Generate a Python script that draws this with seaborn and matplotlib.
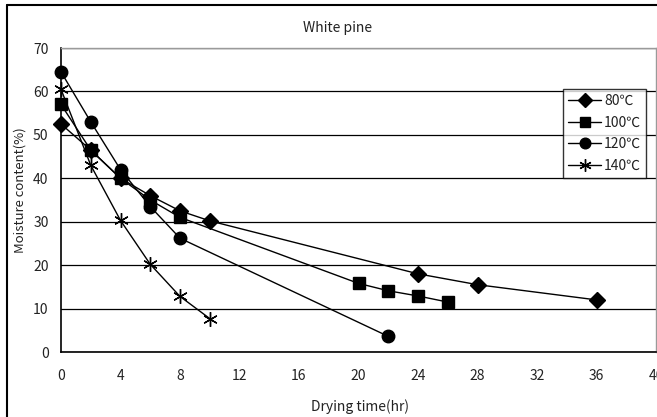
import matplotlib
matplotlib.use("Agg")
import matplotlib.pyplot as plt
import seaborn as sns
import pandas as pd
from matplotlib.lines import Line2D

sns.set_theme(style="white")
plt.rcParams['font.family'] = ['Noto Sans CJK KR', 'DejaVu Sans']

t80 = [0, 2, 4, 6, 8, 10, 24, 28, 36]
m80 = [52.5, 46.5, 40.0, 36.0, 32.5, 30.2, 18.0, 15.5, 12.0]
t100 = [0, 2, 4, 6, 8, 20, 22, 24, 26]
m100 = [57.0, 46.5, 40.0, 35.0, 31.0, 15.8, 14.1, 12.9, 11.5]
t120 = [0, 2, 4, 6, 8, 22]
m120 = [64.5, 53.0, 42.0, 33.5, 26.2, 3.6]
t140 = [0, 2, 4, 6, 8, 10]
m140 = [60.5, 43.0, 30.3, 20.2, 12.8, 7.7]

labels = ["80\u2103", "100\u2103", "120\u2103", "140\u2103"]
xticks = list(range(0, 41, 4))
yticks = list(range(0, 71, 10))

W, H = 657, 417
fig = plt.figure(figsize=(W / 100, H / 100), dpi=100)
ax = fig.add_axes([61 / W, 1 - 352 / H, (656 - 61) / W, (352 - 48) / H])

series = [(t80, m80, 'D', 8.5), (t100, m100, 's', 9), (t120, m120, 'o', 9), (t140, m140, (6, 2, 0), 10.5)]
for (t, m, mk, ms), lab in zip(series, labels):
    df = pd.DataFrame({"t": t, "m": m})
    sns.lineplot(data=df, x="t", y="m", ax=ax, color="black", linewidth=1.0,
                 marker=mk, markersize=ms, markeredgecolor="black",
                 markerfacecolor="black", markeredgewidth=1.0,
                 label=lab, clip_on=False, zorder=3)

ax.set_xlim(0, 40)
ax.set_ylim(0, 70)
ax.set_xticks(xticks)
ax.set_yticks(yticks)
ax.set_xticklabels([str(v) for v in xticks], fontsize=10, color="#222222")
ax.set_yticklabels([str(v) for v in yticks], fontsize=10, color="#222222")
ax.tick_params(axis='x', direction='in', length=4, width=1, color='black', pad=12)
ax.tick_params(axis='y', length=0, pad=9)
ax.yaxis.grid(True, color='black', linewidth=0.9)
ax.xaxis.grid(False)
for s in ['left', 'bottom']:
    ax.spines[s].set_color('black')
    ax.spines[s].set_linewidth(1.2)
for s in ['top', 'right']:
    ax.spines[s].set_color('#9a9a9a')
    ax.spines[s].set_linewidth(1.0)

ax.set_xlabel("Drying time(hr)", fontsize=10, color="#222222")
ax.xaxis.set_label_coords(0.503, -(399 - 352) / (352 - 48))
ax.set_ylabel("Moisture content(%)", fontsize=9.5, color="#222222")
ax.yaxis.set_label_coords(-(61 - 27) / (656 - 61), (352 - 190) / (352 - 48))
fig.text(338 / W, 1 - 28 / H, "White pine", ha='center', va='center', fontsize=10, color="#222222")

leg = ax.legend(loc='upper left', bbox_to_anchor=((563 - 61) / (656 - 61), 1 - (89 - 48) / (352 - 48)),
                frameon=True, fancybox=False, edgecolor='black', fontsize=10,
                handlelength=2.4, borderpad=0.35, labelspacing=0.55, handletextpad=0.2,
                borderaxespad=0, markerscale=0.85)
leg.get_frame().set_linewidth(1.0)
leg.set_zorder(5)
for txt in leg.get_texts():
    txt.set_color("#222222")

fig.add_artist(Line2D([7 / W, 7 / W], [0, 1 - 5 / H], transform=fig.transFigure, color='black', linewidth=1.5))
fig.add_artist(Line2D([7 / W, 1], [1 - 5 / H, 1 - 5 / H], transform=fig.transFigure, color='black', linewidth=1.5))

fig.savefig("out.png", dpi=100)
